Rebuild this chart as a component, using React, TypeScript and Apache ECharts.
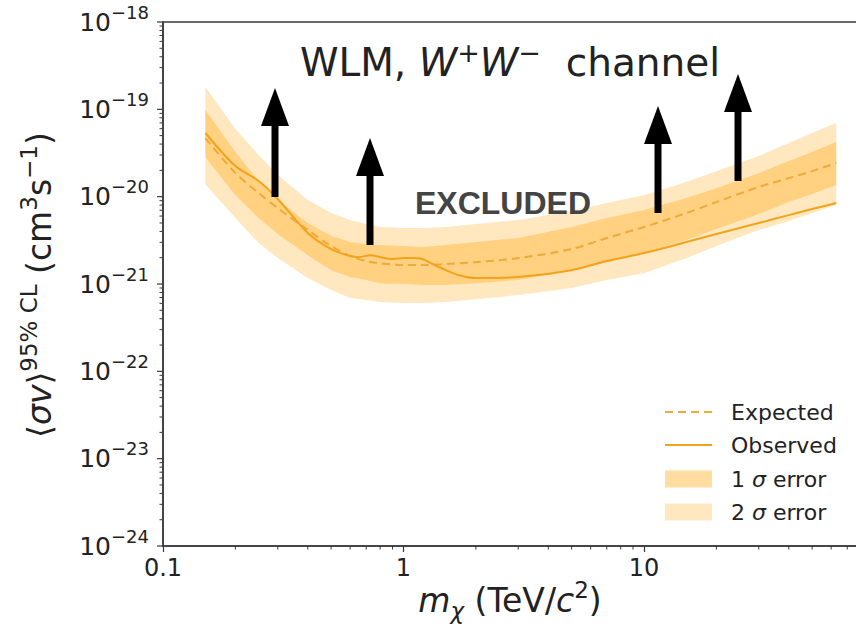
import React, { useEffect, useRef } from "react";
import * as echarts from "echarts";

// ---- data ----
const bandMass = [0.15, 0.2, 0.25, 0.3, 0.4, 0.5, 0.6, 0.7, 0.8, 1, 1.2, 1.5, 2, 3, 5, 7, 10, 15, 20, 30, 40, 50, 63];
const sigma2Upper = [1.8e-19, 5.95e-20, 3.0e-20, 1.77e-20, 9.14e-21, 6.49e-21, 5.4e-21, 4.86e-21, 4.49e-21, 4.37e-21, 4.37e-21, 4.49e-21, 4.86e-21, 5.4e-21, 6.84e-21, 8.45e-21, 1.04e-20, 1.47e-20, 1.96e-20, 2.92e-20, 4.11e-20, 5.36e-20, 6.97e-20];
const sigma1Upper = [9.8e-20, 3.24e-20, 1.51e-20, 9.14e-21, 4.99e-21, 3.54e-21, 3.02e-21, 2.86e-21, 2.79e-21, 2.72e-21, 2.65e-21, 2.79e-21, 3.02e-21, 3.36e-21, 4.49e-21, 5.69e-21, 7.03e-21, 9.64e-21, 1.25e-20, 1.86e-20, 2.56e-20, 3.24e-20, 4.22e-20];
const sigma1Lower = [2.84e-20, 1.04e-20, 5.69e-21, 3.73e-21, 2.14e-21, 1.44e-21, 1.2e-21, 1.11e-21, 1.02e-21, 9.98e-22, 9.71e-22, 9.71e-22, 1.02e-21, 1.11e-21, 1.44e-21, 1.78e-21, 2.26e-21, 3.18e-21, 4.26e-21, 6.32e-21, 8.67e-21, 1.07e-20, 1.36e-20];
const sigma2Lower = [1.39e-20, 5.69e-21, 2.94e-21, 1.98e-21, 1.17e-21, 8.51e-22, 6.9e-22, 6.54e-22, 6.21e-22, 6.04e-22, 6.04e-22, 6.21e-22, 6.71e-22, 7.46e-22, 8.98e-22, 1.11e-21, 1.33e-21, 1.98e-21, 2.72e-21, 4.14e-21, 5.25e-21, 6.49e-21, 8.01e-21];
const expected = [4.69e-20, 1.86e-20, 1.1e-20, 7.4e-21, 4.14e-21, 2.72e-21, 2.09e-21, 1.83e-21, 1.73e-21, 1.65e-21, 1.65e-21, 1.69e-21, 1.78e-21, 1.98e-21, 2.51e-21, 3.36e-21, 4.49e-21, 6.49e-21, 8.67e-21, 1.29e-20, 1.63e-20, 1.96e-20, 2.43e-20];

const obsMass = [0.15, 0.2, 0.25, 0.3, 0.4, 0.5, 0.6, 0.65, 0.73, 0.8, 0.9, 1.0, 1.1, 1.2, 1.3, 1.5, 1.7, 2, 3, 5, 7, 10, 15, 20, 30, 40, 50, 63];
const observed = [5.36e-20, 2.24e-20, 1.51e-20, 9.39e-21, 3.83e-21, 2.51e-21, 2.09e-21, 2.03e-21, 2.14e-21, 2.03e-21, 1.93e-21, 1.98e-21, 1.98e-21, 1.93e-21, 1.73e-21, 1.44e-21, 1.26e-21, 1.17e-21, 1.2e-21, 1.44e-21, 1.83e-21, 2.26e-21, 3.02e-21, 3.73e-21, 4.99e-21, 6.15e-21, 7.21e-21, 8.45e-21];

// tick labels
const yTickValues = [1e-24, 1e-23, 1e-22, 1e-21, 1e-20, 1e-19, 1e-18];
const yTickExponents = ["−24", "−23", "−22", "−21", "−20", "−19", "−18"];
const xMinorTicks = [0.2, 0.3, 0.4, 0.5, 0.6, 0.7, 0.8, 0.9, 2, 3, 4, 5, 6, 7, 8, 9, 20, 30, 40, 50, 60, 70, 80, 90];
const yDecades = [-24, -23, -22, -21, -20, -19];
const yMinorMultipliers = [2, 3, 4, 5, 6, 7, 8, 9];

const legendLabels = ["Expected", "Observed", "1 σ error", "2 σ error"];

// arrows: [x, tipY, bottomY] in pixels (annotation)
const arrows = [
  [275, 88, 197],
  [370, 138, 245],
  [658, 106, 213],
  [738, 74, 181],
];

const FONT = "DejaVu Sans";
const TXT = "#222";
const LINE_OBS = "#F2A31B";
const LINE_EXP = "#EEAA3A";
const BAND2 = "rgba(255,170,20,0.27)";
const BAND1 = "rgba(255,170,20,0.36)";
const BAND1_LEG = "rgba(255,170,20,0.40)";
const BAND2_LEG = "rgba(255,170,20,0.27)";

function bandSeries(lower: number[], upper: number[], color: string, z: number) {
  return {
    type: "custom",
    coordinateSystem: "cartesian2d",
    silent: true,
    z,
    data: bandMass.map((m, i) => [m, lower[i], upper[i]]),
    encode: { x: 0, y: [1, 2] },
    renderItem: (params: any, api: any) => {
      if (params.dataIndex !== 0) return null;
      const top = bandMass.map((m, i) => api.coord([m, upper[i]]));
      const bot = bandMass.map((m, i) => api.coord([m, lower[i]])).reverse();
      return {
        type: "polygon",
        shape: { points: top.concat(bot) },
        style: { fill: color, stroke: null },
      };
    },
  };
}

export default function App() {
  const ref = useRef<HTMLDivElement>(null);
  useEffect(() => {
    if (!ref.current) return;
    const chart = echarts.init(ref.current, null, { renderer: "svg" });

    const yMinor: number[][] = [];
    yDecades.forEach((d) => yMinorMultipliers.forEach((k) => yMinor.push([0.1, k * Math.pow(10, d)])));

    const legendX1 = 665;
    const legendX2 = 712;
    const legendTextX = 731;
    const legendY = [412, 445, 479, 512];

    const graphics: any[] = [];
    arrows.forEach(([cx, tip, bottom]) => {
      graphics.push({
        type: "polygon",
        z: 100,
        shape: { points: [[cx, tip], [cx - 14, tip + 38], [cx + 14, tip + 38]] },
        style: { fill: "#000" },
      });
      graphics.push({
        type: "rect",
        z: 100,
        shape: { x: cx - 3.5, y: tip + 34, width: 7, height: bottom - tip - 34 },
        style: { fill: "#000" },
      });
    });
    graphics.push({
      type: "text",
      x: 510,
      y: 62,
      z: 100,
      style: {
        text: "{n|WLM, }{i|W}{s|+}{i|W}{s|−}{n|  channel}",
        align: "center",
        verticalAlign: "middle",
        textAlign: "center",
        textVerticalAlign: "middle",
        rich: {
          n: { fontSize: 39, fontFamily: FONT, fill: TXT, lineHeight: 47 },
          i: { fontSize: 39, fontFamily: FONT, fontStyle: "italic", fill: TXT, lineHeight: 47 },
          s: { fontSize: 27, fontFamily: FONT, fill: TXT, verticalAlign: "top", lineHeight: 27 },
        },
      },
    });
    graphics.push({
      type: "text",
      x: 503,
      y: 203,
      z: 100,
      style: {
        text: "EXCLUDED",
        align: "center",
        verticalAlign: "middle",
        textAlign: "center",
        textVerticalAlign: "middle",
        fontSize: 32,
        fontWeight: "bold",
        fontFamily: "Liberation Sans",
        fill: "#444",
      },
    });
    graphics.push({
      type: "text",
      x: 39,
      y: 285,
      rotation: Math.PI / 2,
      z: 100,
      style: {
        text: "{n|⟨}{i|σv}{n|⟩}{s|95% CL}{n| (cm}{s|3}{n|s}{s|−1}{n|)}",
        align: "center",
        verticalAlign: "middle",
        textAlign: "center",
        textVerticalAlign: "middle",
        rich: {
          n: { fontSize: 33, fontFamily: FONT, fill: TXT, lineHeight: 44 },
          i: { fontSize: 33, fontFamily: FONT, fontStyle: "italic", fill: TXT, lineHeight: 44 },
          s: { fontSize: 23, fontFamily: FONT, fill: TXT, verticalAlign: "top", lineHeight: 23 },
        },
      },
    });
    graphics.push({
      type: "text",
      x: 510,
      y: 600,
      z: 100,
      style: {
        text: "{i|m}{b|χ}{n| (TeV/}{i|c}{s|2}{n|)}",
        align: "center",
        verticalAlign: "middle",
        textAlign: "center",
        textVerticalAlign: "middle",
        rich: {
          n: { fontSize: 33, fontFamily: FONT, fill: TXT, lineHeight: 44 },
          i: { fontSize: 33, fontFamily: FONT, fontStyle: "italic", fill: TXT, lineHeight: 44 },
          s: { fontSize: 23, fontFamily: FONT, fill: TXT, verticalAlign: "top", lineHeight: 23 },
          b: { fontSize: 23, fontFamily: FONT, fontStyle: "italic", fill: TXT, verticalAlign: "bottom", lineHeight: 23 },
        },
      },
    });
    graphics.push({
      type: "line",
      z: 100,
      shape: { x1: legendX1, y1: legendY[0], x2: legendX2, y2: legendY[0] },
      style: { stroke: LINE_EXP, lineWidth: 2, lineDash: [8, 5] },
    });
    graphics.push({
      type: "line",
      z: 100,
      shape: { x1: legendX1, y1: legendY[1], x2: legendX2, y2: legendY[1] },
      style: { stroke: LINE_OBS, lineWidth: 2 },
    });
    graphics.push({
      type: "rect",
      z: 100,
      shape: { x: legendX1, y: legendY[2] - 8.5, width: legendX2 - legendX1, height: 17 },
      style: { fill: BAND1_LEG },
    });
    graphics.push({
      type: "rect",
      z: 100,
      shape: { x: legendX1, y: legendY[3] - 8.5, width: legendX2 - legendX1, height: 17 },
      style: { fill: BAND2_LEG },
    });
    legendLabels.forEach((lab, i) => {
      const parts = lab.split("σ");
      const text = parts.length === 2 ? `{n|${parts[0]}}{i|σ}{n|${parts[1]}}` : `{n|${lab}}`;
      graphics.push({
        type: "text",
        x: legendTextX,
        y: legendY[i],
        z: 100,
        style: {
          text,
          align: "left",
          verticalAlign: "middle",
          textAlign: "left",
          textVerticalAlign: "middle",
          rich: {
            n: { fontSize: 22, fontFamily: FONT, fill: TXT },
            i: { fontSize: 22, fontFamily: FONT, fontStyle: "italic", fill: TXT },
          },
        },
      });
    });

    const option: any = {
      animation: false,
      backgroundColor: "#fff",
      grid: {
        left: 163,
        top: 22,
        width: 721.5,
        height: 524,
        containLabel: false,
        outerBoundsMode: "none",
        show: true,
        borderColor: "#3a3a3a",
        borderWidth: 1.5,
        backgroundColor: "transparent",
      },
      xAxis: {
        type: "log",
        logBase: 10,
        min: 0.1,
        max: 100,
        axisLine: { show: true, lineStyle: { color: "#3a3a3a", width: 1.5 } },
        axisTick: { show: true, length: 6, inside: false, lineStyle: { color: "#3a3a3a", width: 1.2 } },
        splitLine: { show: false },
        axisLabel: {
          margin: 10,
          fontSize: 24,
          fontFamily: FONT,
          color: TXT,
          showMinLabel: true,
          showMaxLabel: false,
          formatter: (v: number) => (v < 1 ? String(Math.round(v * 10) / 10) : String(Math.round(v))),
        },
      },
      yAxis: {
        type: "log",
        logBase: 10,
        min: 1e-24,
        max: 1e-18,
        splitNumber: 6,
        axisLine: { show: true, lineStyle: { color: "#3a3a3a", width: 1.5 } },
        axisTick: { show: false },
        splitLine: { show: false },
        axisLabel: { show: false },
      },
      series: [
        bandSeries(sigma2Lower, sigma2Upper, BAND2, 1),
        bandSeries(sigma1Lower, sigma1Upper, BAND1, 2),
        {
          type: "line",
          z: 3,
          data: bandMass.map((m, i) => [m, expected[i]]),
          showSymbol: false,
          smooth: 0.3,
          silent: true,
          lineStyle: { color: LINE_EXP, width: 2, type: [8, 5] },
        },
        {
          type: "line",
          z: 4,
          data: obsMass.map((m, i) => [m, observed[i]]),
          showSymbol: false,
          smooth: 0.3,
          silent: true,
          lineStyle: { color: LINE_OBS, width: 2 },
        },
        {
          type: "custom",
          z: 10,
          silent: true,
          clip: false,
          data: xMinorTicks.map((v) => [v, 1e-24]),
          encode: { x: 0, y: 1 },
          renderItem: (params: any, api: any) => {
            const p = api.coord([api.value(0), api.value(1)]);
            return {
              type: "line",
              shape: { x1: p[0], y1: p[1], x2: p[0], y2: p[1] + 3.5 },
              style: { stroke: "#3a3a3a", lineWidth: 1 },
            };
          },
        },
        {
          type: "custom",
          z: 10,
          silent: true,
          clip: false,
          data: yMinor,
          encode: { x: 0, y: 1 },
          renderItem: (params: any, api: any) => {
            const p = api.coord([api.value(0), api.value(1)]);
            return {
              type: "line",
              shape: { x1: p[0] - 3.5, y1: p[1], x2: p[0], y2: p[1] },
              style: { stroke: "#3a3a3a", lineWidth: 1 },
            };
          },
        },
        {
          // major y ticks and their labels
          type: "custom",
          z: 10,
          silent: true,
          clip: false,
          data: yTickValues.map((v) => [0.1, v]),
          encode: { x: 0, y: 1 },
          renderItem: (params: any, api: any) => {
            const p = api.coord([api.value(0), api.value(1)]);
            return {
              type: "group",
              children: [
                {
                  type: "line",
                  shape: { x1: p[0] - 6, y1: p[1], x2: p[0], y2: p[1] },
                  style: { stroke: "#3a3a3a", lineWidth: 1.2 },
                },
                {
                  type: "text",
                  x: p[0] - 14,
                  y: p[1],
                  style: {
                    text: `{b|10}{s|${yTickExponents[params.dataIndex]}}`,
                    align: "right",
                    verticalAlign: "middle",
                    rich: {
                      b: { fontSize: 25, fontFamily: FONT, fill: TXT, lineHeight: 38 },
                      s: { fontSize: 18, fontFamily: FONT, fill: TXT, verticalAlign: "top", lineHeight: 18 },
                    },
                  },
                },
              ],
            };
          },
        },
      ],
      graphic: graphics,
    };
    chart.setOption(option);
    return () => chart.dispose();
  }, []);

  return (
    <div style={{ position: "absolute", left: 0, top: 0, width: 856, height: 641, overflow: "hidden", background: "#fff" }}>
      <div ref={ref} style={{ position: "absolute", left: 0, top: 0, width: 940, height: 641 }} />
    </div>
  );
}
